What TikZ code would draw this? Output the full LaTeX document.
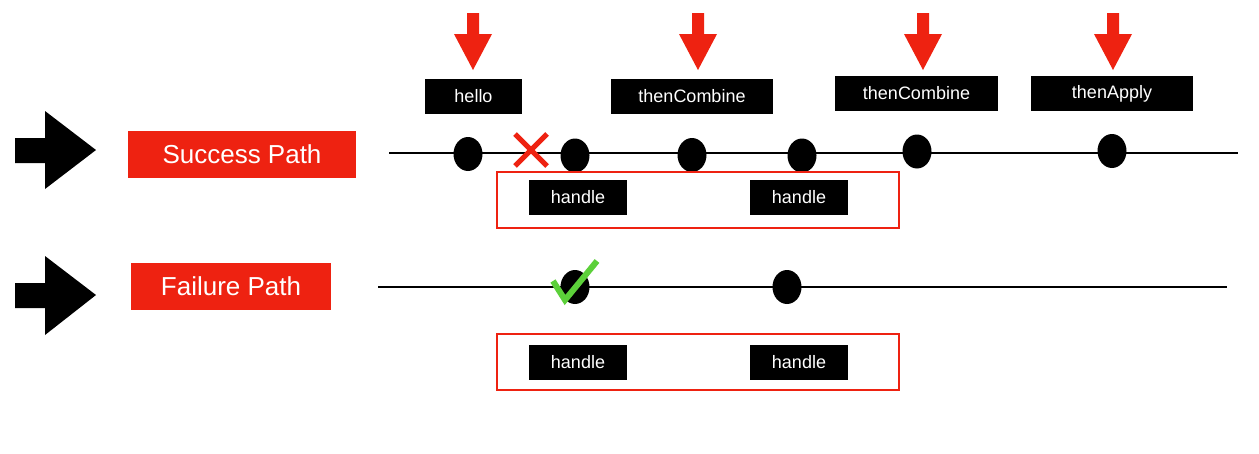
\documentclass[tikz,border=0pt]{standalone}
\usepackage{fontspec}
\setmainfont{Liberation Sans}
\usetikzlibrary{shapes.geometric}
\definecolor{pathred}{HTML}{EE2211}
\definecolor{okgreen}{HTML}{5CD03A}

\begin{document}
\begin{tikzpicture}[
		x=1pt, y=-1pt,
		every node/.style={inner sep=0pt},
		op/.style={fill=black, text=white, minimum height=35pt, font=\fontsize{18}{20}\selectfont},
		title/.style={fill=pathred, text=white, minimum height=47pt, font=\fontsize{26}{28}\selectfont},
		dot/.style={ellipse, fill=black, minimum width=29pt, minimum height=34pt},
		track/.style={line width=2pt},
		redbox/.style={draw=pathred, line width=2pt}
	]
  \useasboundingbox[fill=white] (0,0) rectangle (1259,453);
  % big black arrows
  \fill (15,138) -- (45,138) -- (45,111) -- (96,150) -- (45,189) -- (45,163) -- (15,163) -- cycle;
  \fill (15,283) -- (45,283) -- (45,256) -- (96,295) -- (45,335) -- (45,308) -- (15,308) -- cycle;
  \node (success) [title, minimum width=228pt] at (242,154) {Success Path};
  \node (failure) [title, minimum width=200pt] at (231,286.5) {Failure Path};
  % red arrows over the operations
  \foreach \x in {473,698,923,1113}
    \fill[pathred] (\x-6,13) -- (\x+6,13) -- (\x+6,34) -- (\x+19,34) -- (\x,70) -- (\x-19,34) -- (\x-6,34) -- cycle;
  \node (hello) [op, minimum width=97pt] at (473.5,96.5) {hello};
  \node (combine_a) [op, minimum width=162pt] at (692,96.5) {thenCombine};
  \node (combine_b) [op, minimum width=163pt] at (916.5,93.5) {thenCombine};
  \node (apply) [op, minimum width=162pt] at (1112,93.5) {thenApply};
  % success path
  \coordinate (s_start) at (389,153);
  \coordinate (s_end) at (1238,153);
  \draw[track] (s_start) -- (s_end);
  \node (s_1) [dot] at (468,154) {};
  \node (s_2) [dot] at (575,155.5) {};
  \node (s_3) [dot] at (692,155) {};
  \node (s_4) [dot] at (802,155.5) {};
  \node (s_5) [dot] at (917,151.5) {};
  \node (s_6) [dot] at (1112,151) {};
  \draw[pathred, line width=5pt] (515,134) -- (547,166) (547,134) -- (515,166);
  \draw[redbox] (497,172) rectangle (899,228);
  \node (s_handle_a) [op, minimum width=98pt] at (578,197.5) {handle};
  \node (s_handle_b) [op, minimum width=98pt] at (799,197.5) {handle};
  % failure path
  \coordinate (f_start) at (378,287);
  \coordinate (f_end) at (1227,287);
  \draw[track] (f_start) -- (f_end);
  \node (f_1) [dot] at (575,287) {};
  \node (f_2) [dot] at (787,287) {};
  \draw[okgreen, line width=6pt] (553,281) -- (565,300) -- (597,261);
  \draw[redbox] (497,334) rectangle (899,390);
  \node (f_handle_a) [op, minimum width=98pt] at (578,362) {handle};
  \node (f_handle_b) [op, minimum width=98pt] at (799,362) {handle};
\end{tikzpicture}
\end{document}
